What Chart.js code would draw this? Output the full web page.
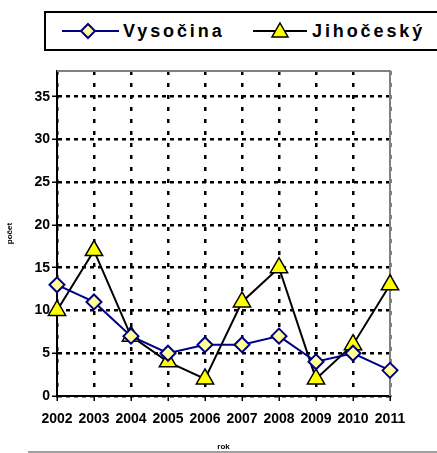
<!DOCTYPE html>
<html>
<head>
<meta charset="utf-8">
<script src="https://cdn.jsdelivr.net/npm/chart.js@4.4.0/dist/chart.umd.min.js"></script>
<style>
    html, body { margin: 0; padding: 0; background: #fff; }
    #wrap { position: relative; width: 437px; height: 453px; overflow: hidden; font-family: "Liberation Sans", Arial, sans-serif; }
    #chart { position: absolute; left: 0; top: 0; }
    #legend { position: absolute; left: 44px; top: 11px; width: 400px; height: 36px; border: 2px solid #000; background: #fff; }
    .sym { position: absolute; top: 8px; }
    .lbl { position: absolute; top: 7px; font-weight: bold; font-size: 18px; letter-spacing: 2.9px; color: #000; line-height: 22px; }
</style>
</head>
<body>
<div id="wrap">
    <canvas id="chart" width="437" height="453"></canvas>
    <div id="legend">
        <svg class="sym" style="left:16px" width="57" height="20">
            <line x1="0" y1="10" x2="57" y2="10" stroke="#000080" stroke-width="2"/>
            <polygon points="26,3 33,10 26,17 19,10" fill="#FFFF99" stroke="#000080" stroke-width="2"/>
        </svg>
        <span class="lbl" style="left:77px">Vysočina</span>
        <svg class="sym" style="left:207px" width="54" height="20">
            <line x1="0" y1="10" x2="54" y2="10" stroke="#000" stroke-width="2"/>
            <polygon points="27,2 35,16 19,16" fill="#FFFF00" stroke="#000" stroke-width="1.5"/>
        </svg>
        <span class="lbl" style="left:266px">Jihočeský</span>
    </div>
</div>
<script>
// data
const years = ['2002', '2003', '2004', '2005', '2006', '2007', '2008', '2009', '2010', '2011'];
const vysocina = [13, 11, 7, 5, 6, 6, 7, 4, 5, 3];
const jihocesky = [10, 17, 7, 4, 2, 11, 15, 2, 6, 13];
const yTicks = [0, 5, 10, 15, 20, 25, 30, 35];

const tickFont = { family: 'Liberation Sans, Arial, sans-serif', size: 14, weight: 'bold' };
const smallFont = { family: 'Liberation Sans, Arial, sans-serif', size: 8, weight: 'bold' };

// gray frame on top/right of the plot and the thin line at the bottom
const framePlugin = {
    id: 'frame',
    beforeDatasetsDraw(chart) {
        const { ctx, chartArea } = chart;
        ctx.save();
        ctx.strokeStyle = '#808080';
        ctx.lineWidth = 2;
        ctx.beginPath();
        ctx.moveTo(chartArea.left, chartArea.top);
        ctx.lineTo(chartArea.right, chartArea.top);
        ctx.lineTo(chartArea.right, chartArea.bottom);
        ctx.stroke();
        ctx.lineWidth = 1.5;
        ctx.beginPath();
        ctx.moveTo(28, 452);
        ctx.lineTo(437, 452);
        ctx.stroke();
        ctx.restore();
    }
};

new Chart(document.getElementById('chart').getContext('2d'), {
    type: 'line',
    data: {
        labels: years,
        datasets: [
            {
                label: 'Vysočina',
                data: vysocina,
                borderColor: '#000080',
                borderWidth: 2,
                pointStyle: 'rectRot',
                pointRadius: 7.5,
                pointBackgroundColor: '#FFFF99',
                pointBorderColor: '#000080',
                pointBorderWidth: 2,
                tension: 0
            },
            {
                label: 'Jihočeský',
                data: jihocesky,
                borderColor: '#000',
                borderWidth: 2,
                pointStyle: 'triangle',
                pointRadius: 10,
                pointBackgroundColor: '#FFFF00',
                pointBorderColor: '#000',
                pointBorderWidth: 1.5,
                tension: 0
            }
        ]
    },
    options: {
        responsive: false,
        animation: false,
        layout: { padding: { left: 0, top: 71, right: 47, bottom: 0 } },
        plugins: {
            legend: { display: false },
            tooltip: { enabled: false }
        },
        scales: {
            x: {
                offset: false,
                grid: {
                    color: '#000',
                    lineWidth: 2.5,
                    tickLength: 5,
                    tickBorderDash: [],
                    tickWidth: 1.5
                },
                // in v4 border.dash is what dashes the grid lines
                border: { display: true, color: '#000', width: 2, dash: [4, 8] },
                ticks: { color: '#000', font: tickFont, padding: 10, maxRotation: 0, autoSkip: false },
                title: { display: true, text: 'rok', color: '#000', font: smallFont, padding: { top: 0, bottom: 1 } },
                afterFit(scale) { scale.height = 57; }
            },
            y: {
                min: 0,
                max: 38,
                grid: {
                    color: '#000',
                    lineWidth: 2.5,
                    tickLength: 5,
                    tickBorderDash: [],
                    tickWidth: 1.5
                },
                border: { display: true, color: '#000', width: 2, dash: [4, 4] },
                ticks: { color: '#000', font: tickFont, padding: 2, stepSize: 5 },
                afterBuildTicks(scale) {
                    scale.ticks = yTicks.map(v => ({ value: v }));
                },
                title: { display: true, text: 'počet', color: '#000', font: smallFont, padding: { top: 5, bottom: 0 } },
                afterFit(scale) { scale.width = 57; }
            }
        }
    },
    plugins: [framePlugin]
});
</script>
</body>
</html>
